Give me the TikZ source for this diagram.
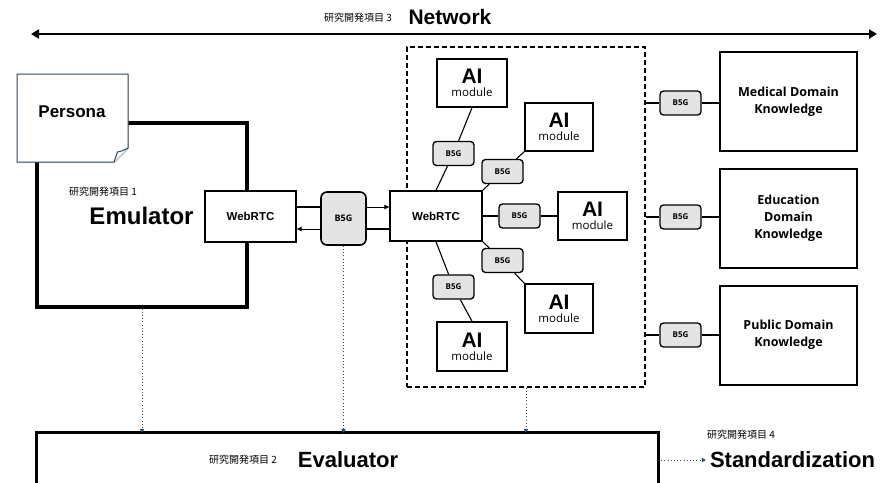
\documentclass[tikz,border=0pt]{standalone}
\usepackage{fontspec}
\setmainfont{Liberation Sans}
\newfontfamily\jp{Noto Sans CJK JP}
\newfontfamily\os{Open Sans}
\usetikzlibrary{arrows.meta,shadows}
\definecolor{navy}{HTML}{2B4A6F}
\definecolor{pcol}{HTML}{2E4560}
\definecolor{bfill}{HTML}{E4E4E4}
\tikzset{
  thickbox/.style={draw, line width=3.2pt, fill=white, inner sep=0pt},
  rtcbox/.style={draw, line width=1.4pt, fill=white, inner sep=0pt, font=\bfseries\fontsize{11.5}{13}\selectfont},
  aibox/.style={draw, line width=1.4pt, fill=white, inner sep=0pt, align=center, minimum width=69pt, minimum height=48pt, drop shadow={opacity=0.2, shadow xshift=1pt, shadow yshift=-1pt}},
  b5g/.style={draw, line width=1.3pt, rounded corners=3.5pt, fill=bfill, minimum width=41pt, minimum height=24pt, inner sep=0pt, font=\os\bfseries\fontsize{8}{9}\selectfont},
  know/.style={draw, line width=2pt, fill=white, minimum width=137pt, minimum height=99pt, inner sep=0pt, align=center, font=\os\bfseries\fontsize{12.5}{17}\selectfont, drop shadow={opacity=0.3, shadow xshift=1.2pt, shadow yshift=-1.2pt}},
  jplabel/.style={font=\jp\fontsize{10}{12}\selectfont, inner sep=0pt},
  biglabel/.style={font=\bfseries\fontsize{22}{24}\selectfont, inner sep=0pt},
  conn/.style={line width=1.1pt},
  dotarr/.style={draw=navy, line width=1pt, dash pattern=on 1pt off 2.2pt, -{Triangle[length=4pt,width=4.5pt,fill=navy]}},
  smallarr/.style={line width=1pt, -{Triangle[length=5pt,width=4.5pt]}}
}
\newcommand{\aitext}{{\bfseries\fontsize{21}{21}\selectfont AI}\\[1pt]{\os\fontsize{11.5}{12}\selectfont module}}
\begin{document}
\begin{tikzpicture}[x=1pt,y=-1pt]
\useasboundingbox[fill=white] (0,0) rectangle (888,482);

% Network
\node[jplabel] (t3) at (358,18) {研究開発項目 3};
\node[font=\bfseries\fontsize{21}{23}\selectfont, inner sep=0pt] (network) at (450,17) {Network};
\coordinate (netL) at (31,34);
\coordinate (netR) at (877,34);
\draw[line width=2.6pt, {Triangle[length=8pt,width=9pt]}-{Triangle[length=8pt,width=9pt]}] (netL) -- (netR);

% Emulator
\node[thickbox, minimum width=210pt, minimum height=184pt] (emu) at (142,215) {};
\draw[fill=white, draw=pcol, line width=1pt, drop shadow={opacity=0.2, shadow xshift=1pt, shadow yshift=-1pt}] (17,74) -- (128,74) -- (128,148) -- (114,162) -- (17,162) -- cycle;
\draw[fill=white, draw=pcol, line width=1pt] (114,162) .. controls (115,157) .. (117.5,152) .. controls (122,151) .. (128,148);
\node[font=\bfseries\fontsize{17}{19}\selectfont, inner sep=0pt] (persona) at (72,112) {Persona};
\node[jplabel] (t1) at (103,192) {研究開発項目 1};
\node[font=\bfseries\fontsize{24}{26}\selectfont, inner sep=0pt] (emulabel) at (141.5,216) {Emulator};
\node[rtcbox, minimum width=91pt, minimum height=51pt] (lw) at (250.5,216.5) {WebRTC};

% middle B5G
\node[b5g, line width=1.6pt, minimum width=45pt, minimum height=53pt, rounded corners=6pt, font=\os\bfseries\fontsize{9}{10}\selectfont] (bm) at (343.5,218.5) {B5G};

% dashed cloud
\node[draw, dash pattern=on 5pt off 3pt, line width=1.3pt, minimum width=238pt, minimum height=340pt, inner sep=0pt] (cloud) at (526,217) {};

\node[rtcbox, minimum width=92pt, minimum height=50pt] (rw) at (436,216) {WebRTC};

\coordinate (u) at (0,207);
\coordinate (d) at (0,229);
\draw[conn] (lw.east |- u) -- (bm.west |- u);
\draw[smallarr] (bm.east |- u) -- (rw.west |- u);
\draw[conn] (rw.west |- d) -- (bm.east |- d);
\draw[smallarr] (bm.west |- d) -- (lw.east |- d);

% AI modules
\node[aibox, minimum width=70pt] (ai1) at (472,83) {\aitext};
\node[aibox, minimum width=68pt] (ai2) at (559,127) {\aitext};
\node[aibox] (ai3) at (592.5,216) {\aitext};
\node[aibox, minimum width=68pt, minimum height=49pt] (ai4) at (559,308.5) {\aitext};
\node[aibox, minimum width=70pt, minimum height=49pt] (ai5) at (472,346.5) {\aitext};

\node[b5g] (ba) at (453.5,153.5) {B5G};
\node[b5g] (bb) at (502.5,171.5) {B5G};
\node[b5g] (bc) at (519.5,216) {B5G};
\node[b5g] (bd) at (502.5,260.5) {B5G};
\node[b5g] (be) at (453.5,287) {B5G};

\draw[conn] (ai1.south) -- (ba) -- (rw.north);
\draw[conn] (ai2.south west) -- (bb) -- (rw.north east);
\draw[conn] (rw.east) -- (bc) -- (ai3.west);
\draw[conn] (rw.south east) -- (bd) -- (ai4.north west);
\draw[conn] (rw.south) -- (be) -- (ai5.north);

% knowledge
\node[know] (med) at (788.5,101.5) {Medical Domain\\Knowledge};
\node[know] (edu) at (788.5,218.5) {Education\\Domain\\Knowledge};
\node[know] (pub) at (788.5,335) {Public Domain\\Knowledge};
\node[b5g] (br1) at (680.5,103) {B5G};
\node[b5g] (br2) at (680.5,217) {B5G};
\node[b5g] (br3) at (680.5,335) {B5G};
\draw[conn] (cloud.east |- br1) -- (br1) -- (br1 -| med.west);
\draw[conn] (cloud.east |- br2) -- (br2) -- (br2 -| edu.west);
\draw[conn] (cloud.east |- br3) -- (br3) -- (br3 -| pub.west);

% Evaluator
\node[minimum width=621pt, minimum height=56pt, inner sep=0pt] (eval) at (347.5,461) {};
\draw[line width=3.2pt] (eval.south west) -- (eval.north west) -- (eval.north east) -- (eval.south east);
\node[jplabel] (t2) at (243,460) {研究開発項目 2};
\node[biglabel] (evallabel) at (348,460) {Evaluator};
\node[jplabel] (t4) at (741,435) {研究開発項目 4};
\node[biglabel] (std) at (792.5,460) {Standardization};

\draw[dotarr] (emu.south) -- (emu.south |- eval.north);
\draw[dotarr] (bm.south) -- (bm.south |- eval.north);
\draw[dotarr] (cloud.south) -- (cloud.south |- eval.north);
\draw[dotarr, shorten <=3pt, shorten >=4pt] (eval.east |- std) -- (std.west);
\end{tikzpicture}
\end{document}
